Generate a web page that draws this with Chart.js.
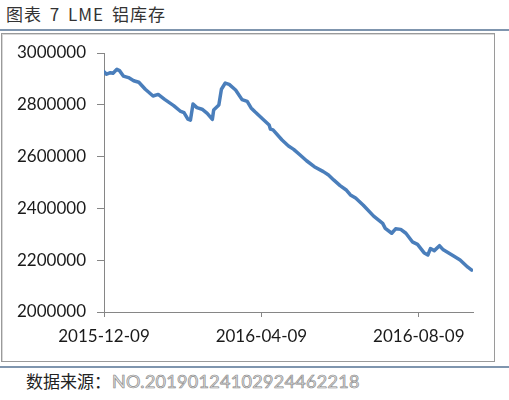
<!DOCTYPE html>
<html><head><meta charset="utf-8">
<script src="https://cdn.jsdelivr.net/npm/chart.js@4"></script>
<style>
html,body{margin:0;padding:0;background:#fff;width:509px;height:400px;overflow:hidden;}
#title{position:absolute;left:6px;top:4px;font-family:"Noto Sans CJK SC";font-size:17px;color:#333;line-height:20px;letter-spacing:1px;word-spacing:3px;white-space:nowrap;}
.rule{position:absolute;left:0;width:509px;height:2px;background:#7f95ae;}
#box{position:absolute;left:1px;top:33px;width:492px;height:327px;border:1px solid #9a9a9a;box-shadow:inset 1px 1px 0 #d8d8d8;}
#src{position:absolute;left:26px;top:370px;font-family:"Noto Sans CJK SC";font-size:17px;color:#222;line-height:22px;white-space:nowrap;}
#wm{font-family:Lato;font-size:18px;color:#e8e8e8;-webkit-text-stroke:0.7px #8a8a8a;letter-spacing:0.3px;margin-left:1px;}
canvas{position:absolute;left:0;top:0;}
</style></head>
<body>
<div id="title">图表 7 LME 铝库存</div>
<div class="rule" style="top:29px"></div>
<div id="box"></div>
<div class="rule" style="top:366px"></div>
<div id="src">数据来源：<span id="wm">NO.20190124102924462218</span></div>
<canvas id="c" width="509" height="400"></canvas>
<script>
const dates = ["2015-12-09","2015-12-11","2015-12-14","2015-12-16","2015-12-19","2015-12-21","2015-12-24","2015-12-28",
"2016-01-01","2016-01-05","2016-01-10","2016-01-16","2016-01-20","2016-01-25","2016-02-01","2016-02-06","2016-02-09",
"2016-02-12","2016-02-14","2016-02-16","2016-02-19","2016-02-23","2016-02-27","2016-03-02","2016-03-03","2016-03-07",
"2016-03-09","2016-03-12","2016-03-15","2016-03-20","2016-03-25","2016-03-29","2016-04-01","2016-04-04","2016-04-10",
"2016-04-15","2016-04-16","2016-04-18","2016-04-25","2016-04-30","2016-05-04","2016-05-09","2016-05-14","2016-05-20",
"2016-05-27","2016-05-31","2016-06-04","2016-06-09","2016-06-14","2016-06-17","2016-06-21","2016-06-27","2016-07-05",
"2016-07-12","2016-07-14","2016-07-19","2016-07-22","2016-07-26","2016-07-30","2016-08-04","2016-08-08","2016-08-13",
"2016-08-16","2016-08-18","2016-08-21","2016-08-25","2016-08-28","2016-09-05","2016-09-10","2016-09-16","2016-09-19"];
const stocks = [2928000,2918000,2924000,2922000,2937000,2932000,2911000,2905000,
2893000,2887000,2860000,2834000,2840000,2821000,2797000,2776000,2770000,
2745000,2741000,2803000,2789000,2783000,2767000,2744000,2780000,2799000,
2860000,2884000,2879000,2857000,2820000,2813000,2788000,2773000,2745000,
2722000,2706000,2703000,2664000,2641000,2628000,2606000,2584000,2561000,
2542000,2529000,2510000,2488000,2470000,2452000,2440000,2412000,2370000,
2342000,2323000,2304000,2321000,2319000,2304000,2271000,2261000,2229000,
2220000,2245000,2237000,2256000,2240000,2216000,2201000,2173000,2162000];
const xTickDates = ["2015-12-09","2016-04-09","2016-08-09"];
const yTicks = [2000000,2200000,2400000,2600000,2800000,3000000];

const DAY = 864e5;
const base = Date.parse(dates[0]);
const toDay = d => Math.round((Date.parse(d) - base) / DAY);
const toDate = n => new Date(base + n * DAY).toISOString().slice(0, 10);
const pts = dates.map((d, i) => ({x: toDay(d), y: stocks[i]}));
const font = {family: "Lato", size: 17};

new Chart(document.getElementById('c'), {
  type: 'line',
  data: {datasets: [{data: pts, borderColor: '#4a7ebb', borderWidth: 3.5, pointRadius: 0, tension: 0, borderJoinStyle: 'round', borderCapStyle: 'round'}]},
  options: {
    responsive: false, animation: false, events: [],
    layout: {padding: {left: 0, top: 53, right: 36, bottom: 0}},
    plugins: {legend: {display: false}, tooltip: {enabled: false}},
    scales: {
      x: {
        type: 'linear', min: 0, max: 286,
        afterBuildTicks: s => { s.ticks = xTickDates.map(d => ({value: toDay(d)})); },
        afterFit: s => { s.height = 88; },
        ticks: {callback: v => toDate(v), color: '#1a1a1a', font: font, padding: 9, maxRotation: 0, autoSkip: false},
        grid: {drawOnChartArea: false, drawTicks: true, tickLength: 5, color: '#868686'},
        border: {color: '#868686', width: 1}
      },
      y: {
        min: 2000000, max: 3000000,
        afterBuildTicks: s => { s.ticks = yTicks.map(v => ({value: v})); },
        afterFit: s => { s.width = 104; },
        ticks: {callback: v => String(v), color: '#1a1a1a', font: font, padding: 11},
        grid: {drawOnChartArea: false, drawTicks: true, tickLength: 7, color: '#868686'},
        border: {color: '#868686', width: 1}
      }
    }
  }
});
</script>
</body></html>
